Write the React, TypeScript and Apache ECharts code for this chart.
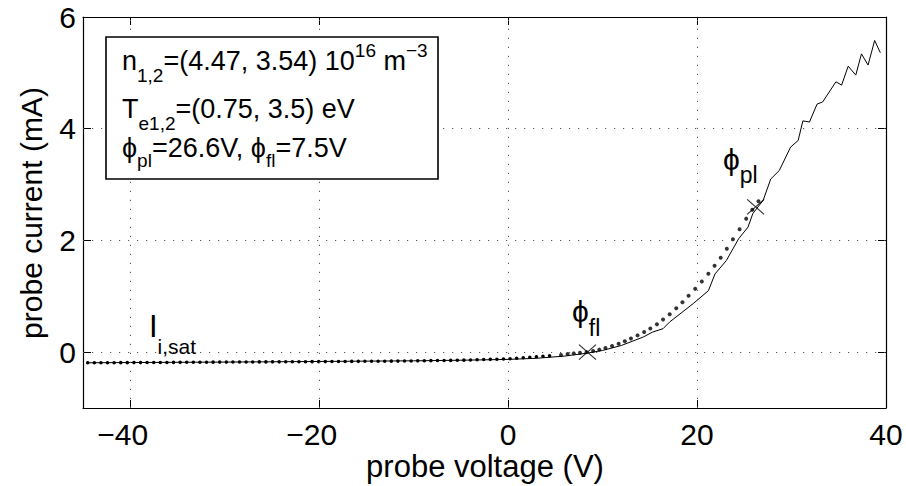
import React, { useEffect, useRef } from "react";
import * as echarts from "echarts";

const FONT = "'Liberation Sans', Arial, Helvetica, sans-serif";

// axis ticks
const xTicks = [-40, -20, 0, 20, 40];
const yTicks = [0, 2, 4, 6];
const xRange = [-45, 40];
const yRange = [-1, 6];

// measured probe characteristic (V, mA)
const measV = [-44.5, -30, -20, -10, -5, 0, 3, 6, 8.3, 10, 12, 14.3, 15.3, 16.4, 17.1, 19.6, 21.2, 21.9, 23.1, 24.4, 25.4, 25.9, 27.0, 27.8, 28.7, 29.9, 30.7, 31.2, 31.9, 32.7, 33.3, 34.7, 35.3, 36.0, 36.8, 37.4, 38.1, 38.8, 39.4];
const measI = [-0.19, -0.178, -0.167, -0.155, -0.145, -0.13, -0.11, -0.07, -0.02, 0.03, 0.12, 0.27, 0.36, 0.42, 0.54, 0.87, 1.1, 1.4, 1.64, 2.03, 2.24, 2.48, 2.72, 3.1, 3.25, 3.67, 3.79, 4.14, 4.12, 4.44, 4.48, 4.84, 4.78, 5.12, 4.96, 5.34, 5.14, 5.58, 5.36];

// two-temperature fit, flat (ion saturation) part
const fitFlatV = [-44.5, -40, -30, -20, -11.4, -5, 0, 3.4, 4.9];
const fitFlatI = [-0.19, -0.188, -0.178, -0.17, -0.16, -0.145, -0.12, -0.077, -0.06];
// two-temperature fit, electron part (dots)
const fitDotV = [5.6, 6.3, 6.95, 7.6, 8.3, 9.0, 9.65, 10.3, 11.0, 11.7, 12.35, 13.0, 13.7, 14.4, 15.05, 15.75, 16.4, 17.1, 17.8, 18.45, 19.1, 19.8, 20.5, 21.2, 21.85, 22.5, 23.15, 23.8, 24.5, 25.2, 25.85, 26.5];
const fitDotI = [-0.05, -0.035, -0.022, -0.01, 0.0, 0.02, 0.045, 0.075, 0.11, 0.15, 0.195, 0.245, 0.3, 0.36, 0.425, 0.5, 0.585, 0.68, 0.785, 0.895, 1.01, 1.135, 1.265, 1.405, 1.545, 1.69, 1.85, 2.02, 2.2, 2.39, 2.55, 2.7];

// floating and plasma potential markers
const markV = [8.4, 26.2];
const markI = [0, 2.6];

type Piece = [string, number]; // 0 normal, 1 subscript, 2 superscript

let measureCtx: CanvasRenderingContext2D | null = null;
function textWidth(t: string, size: number): number {
  if (!measureCtx) measureCtx = document.createElement("canvas").getContext("2d");
  measureCtx!.font = `${size}px ${FONT}`;
  return measureCtx!.measureText(t).width;
}

function tex(pieces: Piece[], x0: number, baseline: number, fs: number, sfs: number, drop: number, raise: number) {
  const out: any[] = [];
  let x = x0;
  for (const [t, k] of pieces) {
    const size = k === 0 ? fs : sfs;
    const bl = k === 1 ? baseline + drop : k === 2 ? baseline - raise : baseline;
    out.push({
      type: "text",
      x,
      y: bl - 0.347 * size,
      silent: true,
      z: 101,
      style: { text: t, fill: "#000", fontSize: size, fontFamily: FONT, align: "left", verticalAlign: "middle" },
    });
    x += textWidth(t, size);
  }
  return out;
}

const PHI = "\u03d5";
const fmtY = (v: number) => (v < 0 ? "\u2212" + Math.abs(v) : String(v));
const fmtX = (v: number) => (v < 0 ? "\u2212" + Math.abs(v) + "\u2002" : String(v));

export default function App() {
  const ref = useRef<HTMLDivElement>(null);
  useEffect(() => {
    if (!ref.current) return;
    const chart = echarts.init(ref.current, undefined, { renderer: "svg" });
    const axisLine = { show: true, onZero: false, lineStyle: { color: "#000", width: 1.2 } };
    const tickX = { show: true, inside: true, length: 8, customValues: xTicks, lineStyle: { color: "#000", width: 1 } };
    const tickY = { show: true, inside: true, length: 8, customValues: yTicks, lineStyle: { color: "#000", width: 1 } };
    const gridStyle = { color: "#555", width: 1, type: [1.2, 7.8] };

    const graphics: any[] = [
      {
        type: "rect",
        shape: { x: 106, y: 37, width: 332, height: 142 },
        style: { fill: "#fff", stroke: "#000", lineWidth: 1.6 },
        z: 100,
      },
      ...tex([["n", 0], ["1,2", 1], ["=(4.47, 3.54) 10", 0], ["16", 2], [" m", 0], ["\u22123", 2]], 122, 70, 27, 19, 12, 13),
      ...tex([["T", 0], ["e1,2", 1], ["=(0.75, 3.5) eV", 0]], 122, 118, 27, 19, 12, 13),
      ...tex([[PHI, 0], ["pl", 1], ["=26.6V, ", 0], [PHI, 0], ["fl", 1], ["=7.5V", 0]], 122, 157, 27, 19, 10, 13),
      ...tex([["I", 0], ["i,sat", 1]], 149, 337, 31, 21, 17, 0),
      ...tex([[PHI, 0], ["fl", 1]], 572, 322, 30, 23, 14, 0),
      ...tex([[PHI, 0], ["pl", 1]], 723, 170, 30, 23, 13, 0),
      {
        type: "text",
        x: 485,
        y: 466,
        silent: true,
        z: 101,
        style: { text: "probe voltage (V)", fill: "#000", fontSize: 31, fontFamily: FONT, align: "center", verticalAlign: "middle" },
      },
      {
        type: "text",
        x: 31,
        y: 213,
        rotation: Math.PI / 2,
        silent: true,
        z: 101,
        style: { text: "probe current (mA)", fill: "#000", fontSize: 30, fontFamily: FONT, align: "center", verticalAlign: "middle" },
      },
    ];

    chart.setOption({
      animation: false,
      backgroundColor: "#fff",
      grid: { left: 83, right: 20, top: 17, bottom: 78 },
      xAxis: [
        {
          type: "value",
          min: xRange[0],
          max: xRange[1],
          position: "bottom",
          axisLine,
          axisTick: tickX,
          axisLabel: {
            customValues: xTicks,
            formatter: fmtX,
            color: "#000",
            fontSize: 30,
            fontFamily: FONT,
            margin: 11,
          },
          splitLine: { show: false },
        },
        {
          type: "value",
          min: xRange[0],
          max: xRange[1],
          position: "top",
          axisLine,
          axisTick: tickX,
          axisLabel: { show: false },
          splitLine: { show: false },
        },
      ],
      yAxis: [
        {
          type: "value",
          min: yRange[0],
          max: yRange[1],
          position: "left",
          axisLine,
          axisTick: tickY,
          axisLabel: { customValues: yTicks, formatter: fmtY, color: "#000", fontSize: 30, fontFamily: FONT, margin: 7 },
          splitLine: { show: false },
        },
        {
          type: "value",
          min: yRange[0],
          max: yRange[1],
          position: "right",
          axisLine,
          axisTick: tickY,
          axisLabel: { show: false },
          splitLine: { show: false },
        },
      ],
      series: [
        {
          type: "line",
          xAxisIndex: 0,
          yAxisIndex: 0,
          data: measV.map((v, i) => [v, measI[i]]),
          showSymbol: false,
          symbol: "none",
          lineStyle: { color: "#000", width: 1 },
          silent: true,
          z: 3,
          markLine: {
            silent: true,
            symbol: "none",
            label: { show: false },
            lineStyle: gridStyle,
            emphasis: { disabled: true },
            data: [
              ...xTicks.filter((v) => v > xRange[0] && v < xRange[1]).map((v) => ({ xAxis: v })),
              ...yTicks.filter((v) => v > yRange[0] && v < yRange[1]).map((v) => ({ yAxis: v })),
            ],
          },
        },
        {
          type: "line",
          xAxisIndex: 0,
          yAxisIndex: 0,
          data: fitFlatV.map((v, i) => [v, fitFlatI[i]]),
          showSymbol: false,
          symbol: "none",
          lineStyle: { color: "#000", width: 3.6, type: [0, 6.6], cap: "round" },
          silent: true,
          z: 4,
        },
        {
          type: "scatter",
          xAxisIndex: 0,
          yAxisIndex: 0,
          data: fitDotV.map((v, i) => [v, fitDotI[i]]),
          symbol: "circle",
          symbolSize: 4,
          itemStyle: { color: "#000" },
          silent: true,
          z: 4,
        },
        {
          type: "scatter",
          xAxisIndex: 0,
          yAxisIndex: 0,
          data: markV.map((v, i) => [v, markI[i]]),
          symbol: "path://M0,0L10,10M10,0L0,10",
          symbolSize: [17, 15],
          itemStyle: { color: "rgba(0,0,0,0)", borderColor: "#000", borderWidth: 1.1 },
          silent: true,
          z: 5,
        },
      ],
      graphic: graphics,
    });
    return () => chart.dispose();
  }, []);
  return (
    <div
      ref={ref}
      style={{ position: "fixed", left: 0, top: 0, width: 906, height: 486, background: "#fff" }}
    />
  );
}
